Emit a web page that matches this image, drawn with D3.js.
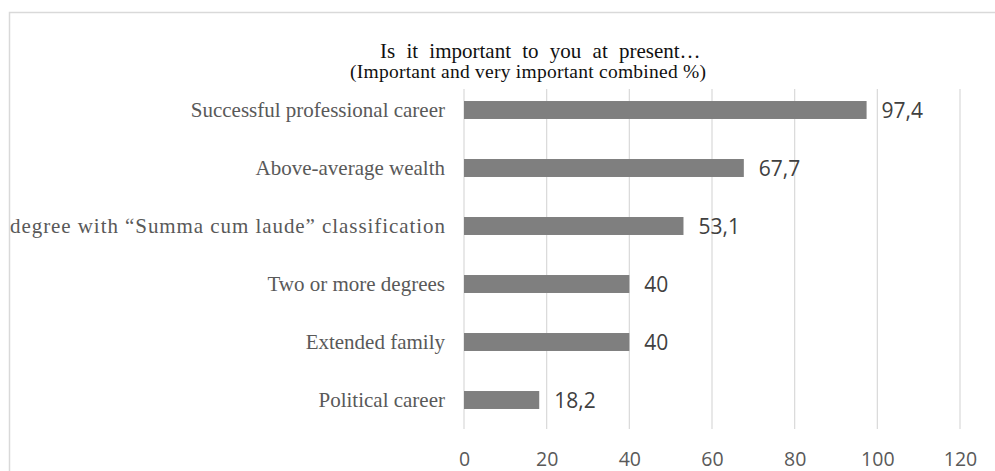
<!DOCTYPE html>
<html>
<head>
<meta charset="utf-8">
<script src="https://cdn.jsdelivr.net/npm/d3@7"></script>
<style>
  html, body { margin: 0; padding: 0; background: #fff; }
  svg { display: block; }
</style>
</head>
<body>
<svg id="chart" width="995" height="471"></svg>
<script>
// Share of respondents rating each goal important or very important
const categories = [
  "Successful professional career",
  "Above-average wealth",
  "degree with \u201cSumma cum laude\u201d classification",
  "Two or more degrees",
  "Extended family",
  "Political career"
];
const values = [97.4, 67.7, 53.1, 40, 40, 18.2];
const tickValues = [0, 20, 40, 60, 80, 100, 120];
const titleLines = [
  "Is it important to you at present\u2026",
  "(Important and very important combined %)"
];

const svg = d3.select("#chart");

// chart frame
svg.append("rect")
  .attr("x", 9.5).attr("y", 12.5)
  .attr("width", 1100).attr("height", 520)
  .attr("fill", "#fff")
  .attr("stroke", "#d9d9d9")
  .attr("stroke-width", 1.5);

const plot = { left: 464, right: 960, top: 89, bottom: 429 };

const x = d3.scaleLinear().domain([0, 120]).range([plot.left, plot.right]);
const y = d3.scaleBand().domain(categories).range([81, 429]).paddingInner(0.69).paddingOuter(0.345);

const commaLocale = d3.formatLocale({ decimal: ",", thousands: ".", grouping: [3], currency: ["", ""] });
const fmt = v => Number.isInteger(v) ? String(v) : commaLocale.format(".1f")(v);

// vertical gridlines
svg.append("g")
  .selectAll("line")
  .data(tickValues)
  .join("line")
  .attr("x1", d => x(d)).attr("x2", d => x(d))
  .attr("y1", plot.top).attr("y2", plot.bottom)
  .attr("stroke", "#d9d9d9")
  .attr("stroke-width", 1.2);

// x axis labels
const xAxis = d3.axisBottom(x).tickValues(tickValues).tickSize(0).tickPadding(0);
const gx = svg.append("g").attr("transform", `translate(0,${plot.bottom})`).call(xAxis);
gx.select(".domain").remove();
gx.selectAll("text")
  .attr("dy", null)
  .attr("y", 36.5)
  .attr("font-family", "'Open Sans', sans-serif")
  .attr("font-size", 19.5)
  .attr("fill", "#595959");

// category labels, right-aligned against the bars
const yAxis = d3.axisLeft(y).tickSize(0).tickPadding(0);
const gy = svg.append("g").attr("transform", `translate(445,0)`).call(yAxis);
gy.select(".domain").remove();
gy.selectAll("text")
  .attr("dy", "0.33em")
  .attr("font-family", "'Liberation Serif', 'Times New Roman', serif")
  .attr("font-size", 21)
  .attr("fill", "#595959")
  .filter(d => d === categories[2])
  .attr("textLength", 435)
  .attr("lengthAdjust", "spacing");

// bars
const rows = categories.map((c, i) => ({ c, v: values[i] }));
svg.append("g")
  .selectAll("rect")
  .data(rows)
  .join("rect")
  .attr("x", x(0))
  .attr("y", d => y(d.c))
  .attr("width", d => x(d.v) - x(0))
  .attr("height", y.bandwidth())
  .attr("fill", "#7f7f7f");

// value labels
svg.append("g")
  .selectAll("text")
  .data(rows)
  .join("text")
  .attr("x", d => x(d.v) + 15)
  .attr("y", d => y(d.c) + y.bandwidth() / 2 + 7.7)
  .attr("font-family", "'Open Sans', sans-serif")
  .attr("font-size", 21)
  .attr("fill", "#404040")
  .text(d => fmt(d.v));

// title
const title = svg.append("g").attr("font-family", "'Liberation Serif', 'Times New Roman', serif").attr("fill", "#111");
title.append("text")
  .attr("x", 380).attr("y", 57.5)
  .attr("font-size", 21)
  .attr("word-spacing", 6)
  .text(titleLines[0]);
title.append("text")
  .attr("x", 350).attr("y", 77.5)
  .attr("font-size", 19.5)
  .attr("textLength", 356)
  .attr("lengthAdjust", "spacing")
  .text(titleLines[1]);
</script>
</body>
</html>
